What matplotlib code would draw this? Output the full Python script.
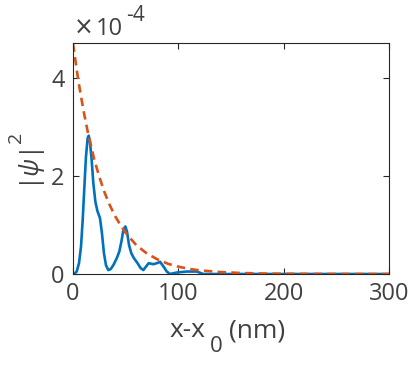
import matplotlib
matplotlib.use("Agg")
import matplotlib.pyplot as plt

# |psi|^2 values in units of 1e-4
x_psi = [0, 1, 3.5, 5.7, 7.6, 9.2, 10.8, 12.3, 13.9, 14.9, 16.1, 17.7, 19.3, 21.2, 23.1,
         25.6, 27.5, 29.4, 31.3, 33.5, 35.8, 38.3, 41.5, 44, 46.2, 47.8, 49.7, 51.3, 53.2,
         55.4, 57.9, 61, 64.2, 66.8, 69.3, 71.8, 76.3, 81, 82.6, 86, 89, 92, 98.4, 108,
         117.4, 123.7, 150, 200, 250, 300]
y_psi = [0, 0, 0.05, 0.22, 0.56, 1.10, 1.78, 2.39, 2.77, 2.82, 2.70, 2.33, 1.85, 1.48, 1.29,
         1.14, 0.83, 0.42, 0.18, 0.08, 0.10, 0.18, 0.32, 0.46, 0.69, 0.90, 0.97, 0.86, 0.59,
         0.42, 0.32, 0.23, 0.12, 0.08, 0.15, 0.22, 0.20, 0.23, 0.25, 0.15, 0.05, 0.0, 0.03,
         0.05, 0.05, 0.0, 0.0, 0.0, 0.0, 0.0]

x_env = [0, 5, 10, 14, 20, 25, 30, 35, 40, 45, 50, 60, 70, 80, 90, 100, 110, 120, 140,
         160, 180, 200, 250, 300]
y_env = [4.7, 3.95, 3.33, 2.9, 2.35, 1.98, 1.66, 1.40, 1.18, 1.0, 0.84, 0.59, 0.42, 0.30,
         0.21, 0.15, 0.105, 0.075, 0.04, 0.02, 0.01, 0.005, 0.001, 0.0]

x_ticks = [0, 100, 200, 300]
y_ticks = [0, 2, 4]

txt = "#404040"
plt.rcParams['font.family'] = ['Open Sans', 'DejaVu Sans']
plt.rcParams['mathtext.fontset'] = 'custom'
plt.rcParams['mathtext.rm'] = 'Open Sans'
plt.rcParams['mathtext.it'] = 'Open Sans:italic'

W, H = 415, 365
fig = plt.figure(figsize=(W/100, H/100), dpi=100)
ax = fig.add_axes([73/W, 1-274/H, (389-73)/W, (274-43)/H])
ax.plot(x_psi, y_psi, color='#0072BD', lw=1.9, solid_joinstyle='round')
ax.plot(x_env, y_env, color='#D95319', lw=1.9, ls=(0, (3.2, 2.0)))
ax.set_xlim(0, 300)
ax.set_ylim(0, 4.71)
ax.set_xticks(x_ticks)
ax.set_yticks(y_ticks)
ax.tick_params(direction='in', length=4, width=0.8, colors='#262626', labelcolor=txt,
               labelsize=17, top=True, right=True, pad=6)
for s in ax.spines.values():
    s.set_color('#262626')
    s.set_linewidth(0.8)

# y label pieces (rotated)
fig.text(32/W, 1-169/H, r'|$\psi$|', fontsize=18, color=txt, rotation=90,
         ha='center', va='center')
fig.text(16/W, 1-137/H, '2', fontsize=14, color=txt, rotation=90,
         ha='center', va='center')

# x label pieces
fig.text(205/W, 1-337/H, 'x-x', fontsize=19, color=txt, ha='right', va='baseline')
fig.text(210/W, 1-352/H, '0', fontsize=16, color=txt, ha='left', va='baseline')
fig.text(229/W, 1-337/H, '(nm)', fontsize=19, color=txt, ha='left', va='baseline')

# offset text
fig.text(83.5/W, 1-28/H, '\u00d7', fontsize=17, color=txt, ha='center', va='center',
         family='DejaVu Sans')
fig.text(96/W, 1-35/H, '10', fontsize=17, color=txt, ha='left', va='baseline')
fig.text(126/W, 1-21/H, '-4', fontsize=15, color=txt, ha='left', va='baseline')
fig.savefig('out.png', dpi=100)
